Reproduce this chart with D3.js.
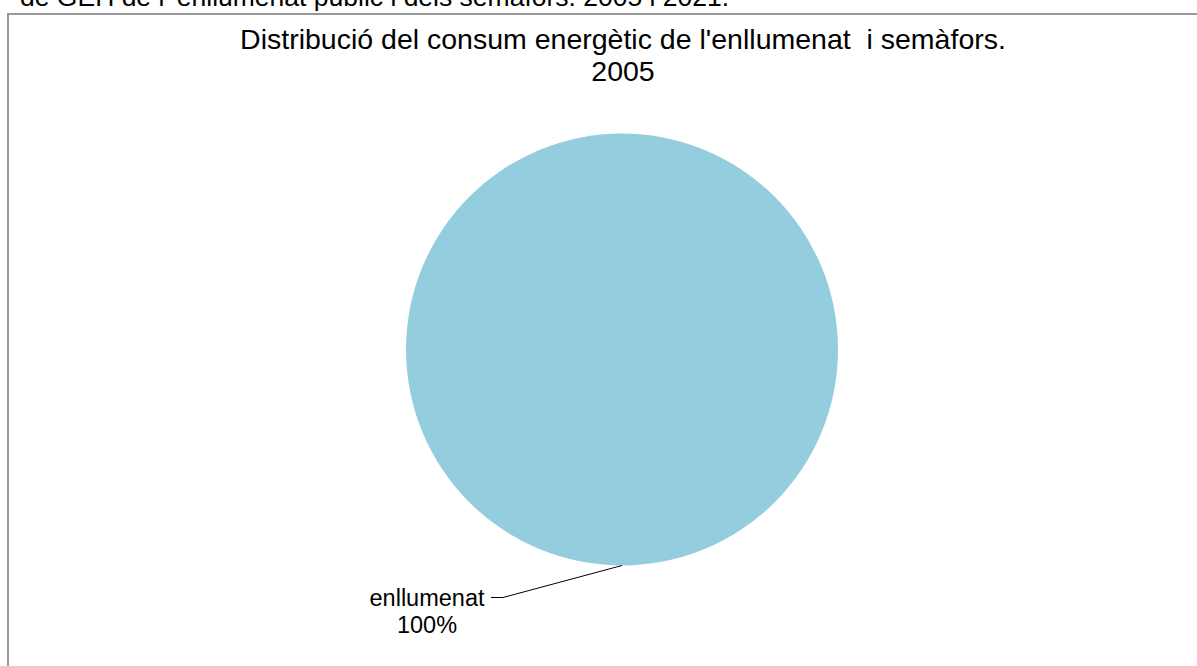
<!DOCTYPE html>
<html>
<head>
<meta charset="utf-8">
<script src="https://cdn.jsdelivr.net/npm/d3@7"></script>
<style>
  html, body { margin: 0; padding: 0; background: #fff; }
  svg { display: block; font-family: "Liberation Sans", Arial, sans-serif; }
  text { white-space: pre; }
</style>
</head>
<body>
<svg id="chart"></svg>
<script>
// ==============================
// DATA
// ==============================
const categories = ["enllumenat", "semàfors"];
const shares = [100, 0];
const sliceColors = ["#94cddd", "#f2a65e"];
const titleLines = ["Distribució del consum energètic de l'enllumenat  i semàfors.", "2005"];
const captionAbove = "de GEH de l' enllumenat públic i dels semàfors. 2005 i 2021.";

// ==============================
// SVG + DIMENSIONS
// ==============================
const width = 1197;
const height = 666;
const svg = d3.select("#chart")
  .attr("width", width)
  .attr("height", height);

// cut-off caption from the page above the chart
svg.append("text")
  .attr("x", 20)
  .attr("y", 6)
  .attr("font-size", 26.5)
  .attr("fill", "#000")
  .text(captionAbove);

// chart frame (bottom runs out of the picture)
svg.append("path")
  .attr("d", `M8,${height + 5} L8,14 L${width + 5},14`)
  .attr("fill", "none")
  .attr("stroke", "#999")
  .attr("stroke-width", 2);

// title
const title = svg.append("text")
  .attr("text-anchor", "middle")
  .attr("font-size", 28.5)
  .attr("fill", "#000");
title.selectAll("tspan")
  .data(titleLines)
  .enter()
  .append("tspan")
  .attr("x", 623)
  .attr("y", (d, i) => 49 + i * 32)
  .text(d => d);

// ==============================
// PIE
// ==============================
const cx = 622, cy = 349.5, radius = 216;
const data = categories.map((c, i) => ({ name: c, value: shares[i], color: sliceColors[i] }));

const pie = d3.pie()
  .sort(null)
  .value(d => d.value);

const arc = d3.arc()
  .innerRadius(0)
  .outerRadius(radius);

const g = svg.append("g").attr("transform", `translate(${cx},${cy})`);
const arcs = pie(data).filter(d => d.data.value > 0);

g.selectAll("path.slice")
  .data(arcs)
  .enter()
  .append("path")
  .attr("class", "slice")
  .attr("d", arc)
  .attr("fill", d => d.data.color);

// ==============================
// LABELS WITH LEADER LINES
// ==============================
const total = d3.sum(shares);
const fmt = v => d3.format(".0f")(v / total * 100) + "%";

arcs.forEach(d => {
  const mid = (d.startAngle + d.endAngle) / 2;
  const p0 = [Math.sin(mid) * radius, -Math.cos(mid) * radius];
  const p1 = [p0[0] - 119, p0[1] + 32];
  const p2 = [p1[0] - 12, p1[1]];

  const lbl = g.append("text")
    .attr("font-size", 23.5)
    .attr("fill", "#000")
    .attr("text-anchor", "middle");
  lbl.append("tspan")
    .attr("x", p2[0] - 64)
    .attr("y", p2[1] + 8)
    .text(d.data.name);
  lbl.append("tspan")
    .attr("x", p2[0] - 64)
    .attr("y", p2[1] + 35)
    .text(fmt(d.data.value));

  g.append("polyline")
    .attr("points", [p0, p1, p2].map(p => p.join(",")).join(" "))
    .attr("fill", "none")
    .attr("stroke", "#000")
    .attr("stroke-width", 1);
});
</script>
</body>
</html>
